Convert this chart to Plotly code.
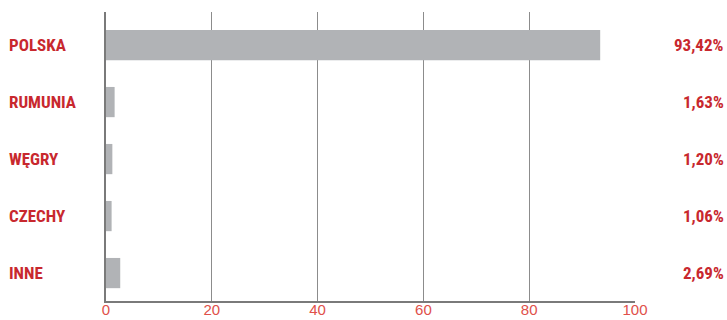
import plotly.graph_objects as go

countries = ["POLSKA", "RUMUNIA", "WĘGRY", "CZECHY", "INNE"]
shares = [93.42, 1.63, 1.20, 1.06, 2.69]
share_labels = ["93,42%", "1,63%", "1,20%", "1,06%", "2,69%"]
x_ticks = [0, 20, 40, 60, 80, 100]

W, H = 727, 320
ML, MR, MT, MB = 106, 92, 12, 19
plot_w = W - ML - MR

RED = "#c8282e"
LABEL_FONT = "Liberation Sans Narrow, Roboto Condensed, Liberation Sans, Arial, sans-serif"

fig = go.Figure(
    go.Bar(
        x=shares,
        y=list(range(len(countries))),
        orientation="h",
        width=0.53,
        marker=dict(color="#b1b3b6", line=dict(width=0)),
        hoverinfo="skip",
    )
)

annotations = []
for i, (name, lab) in enumerate(zip(countries, share_labels)):
    annotations.append(dict(
        x=(7 - ML) / plot_w, xref="paper", y=i, yref="y",
        text=f"<b>{name}</b>", showarrow=False, xanchor="left", yanchor="middle",
        font=dict(family=LABEL_FONT, size=17, color=RED),
    ))
    annotations.append(dict(
        x=(726 - ML) / plot_w, xref="paper", y=i, yref="y",
        text=f"<b>{lab}</b>", showarrow=False, xanchor="right", yanchor="middle",
        font=dict(family=LABEL_FONT, size=17, color=RED),
    ))

fig.update_layout(
    width=W, height=H,
    margin=dict(l=ML, r=MR, t=MT, b=MB, autoexpand=False),
    paper_bgcolor="white", plot_bgcolor="white",
    showlegend=False,
    annotations=annotations,
    xaxis=dict(
        range=[0, 100], tickvals=x_ticks, ticktext=[str(t) for t in x_ticks],
        showgrid=True, gridcolor="#8c8c8c", gridwidth=1,
        showline=True, linecolor="#7a7a7a", linewidth=1.5,
        zeroline=False, ticks="", automargin=False,
        tickfont=dict(family="Liberation Sans, Arial, sans-serif", size=15, color="#e0504a"),
        ticklabelstandoff=-6,
        fixedrange=True,
    ),
    yaxis=dict(
        range=[4.49, -0.58], showticklabels=False, showgrid=False,
        showline=True, linecolor="#7a7a7a", linewidth=1.5,
        zeroline=False, ticks="", automargin=False, fixedrange=True,
    ),
)

fig.write_html("out.html")
